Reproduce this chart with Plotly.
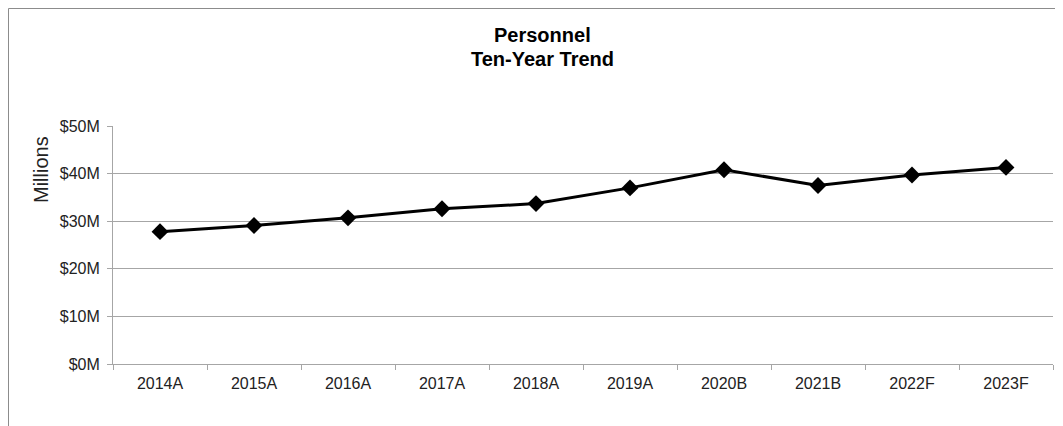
import plotly.graph_objects as go

# data (millions of dollars)
years = ["2014A", "2015A", "2016A", "2017A", "2018A",
         "2019A", "2020B", "2021B", "2022F", "2023F"]
personnel = [27.8, 29.1, 30.7, 32.6, 33.7, 37.0, 40.8, 37.5, 39.7, 41.3]
y_ticks = [0, 10, 20, 30, 40, 50]
y_labels = ["$0M", "$10M", "$20M", "$30M", "$40M", "$50M"]

# page body has an 8px margin, so the figure is a bit smaller than the window
W, H = 1055, 418
L, R, T, B = 105, 10, 118, 62
pw, ph = W - L - R, H - T - B


# figure pixel -> paper helpers
def px(x):
    return (x - L) / pw


def py(y):
    return (H - B - y) / ph


fig = go.Figure()
fig.add_trace(go.Scatter(
    x=years, y=personnel, mode="lines+markers",
    line=dict(color="black", width=3),
    marker=dict(symbol="diamond", size=13, color="black"),
    showlegend=False))

fig.update_layout(
    width=W, height=H,
    margin=dict(l=L, r=R, t=T, b=B),
    paper_bgcolor="white", plot_bgcolor="white",
    font=dict(family="Liberation Sans, Arial, sans-serif", size=16, color="#222"),
    xaxis=dict(range=[-0.5, len(years) - 0.5], autorange=False,
               showgrid=False, showline=True, linecolor="#a6a6a6", linewidth=1,
               ticks="outside", tickson="boundaries", ticklen=5, tickcolor="#a6a6a6",
               ticklabelstandoff=5, tickfont=dict(size=16, color="#222")),
    yaxis=dict(range=[0, 50], tickvals=y_ticks, ticktext=y_labels,
               showgrid=True, gridcolor="#a6a6a6", gridwidth=1,
               showline=True, linecolor="#a6a6a6", linewidth=1,
               ticks="outside", ticklen=5, tickcolor="#a6a6a6", ticklabelstandoff=4,
               zeroline=False, tickfont=dict(size=16, color="#222")),
    annotations=[
        dict(text="<b>Personnel</b>", x=px(534), y=py(27), xref="paper", yref="paper",
             showarrow=False, xanchor="center", yanchor="middle",
             font=dict(size=20, color="black")),
        dict(text="<b>Ten-Year Trend</b>", x=px(534), y=py(51), xref="paper", yref="paper",
             showarrow=False, xanchor="center", yanchor="middle",
             font=dict(size=20, color="black")),
        dict(text="Millions", textangle=-90, x=px(33), y=py(162),
             xref="paper", yref="paper", showarrow=False,
             xanchor="center", yanchor="middle",
             font=dict(size=20, color="#222")),
    ],
    shapes=[dict(type="path", xref="paper", yref="paper",
                 path=f"M {px(0.5)},{py(H + 2)} L {px(0.5)},{py(0.5)} L {px(W + 2)},{py(0.5)}",
                 line=dict(color="#8c8c8c", width=1))],
)

fig.write_html("out.html")
